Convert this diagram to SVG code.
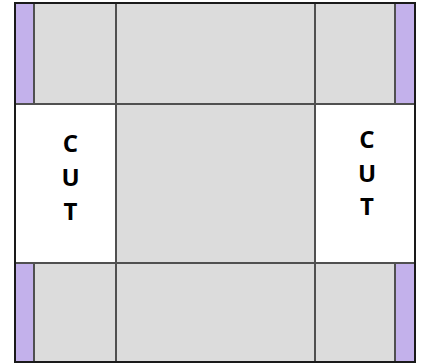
<svg xmlns="http://www.w3.org/2000/svg" width="424" height="364" viewBox="0 0 424 364">
<style>
.g{fill:#dcdcdc}
.p{fill:#c3b1eb}
.w{fill:#ffffff}
.ln{stroke:#505050;stroke-width:2;fill:none}
.t{font-family:"Open Sans","Liberation Sans",sans-serif;font-weight:bold;font-size:24px;fill:#000;text-anchor:middle}
</style>
<rect width="424" height="364" fill="#ffffff"/>
<g id="top-row">
<rect class="g" x="15" y="3" width="400" height="101"/>
<rect class="p" x="15" y="3" width="19" height="101"/>
<rect class="p" x="395" y="3" width="20" height="101"/>
</g>
<g id="middle-row">
<rect class="w" x="15" y="104" width="101" height="159"/>
<rect class="g" x="116" y="104" width="199" height="159"/>
<rect class="w" x="315" y="104" width="100" height="159"/>
</g>
<g id="bottom-row">
<rect class="g" x="15" y="263" width="400" height="99"/>
<rect class="p" x="15" y="263" width="19" height="99"/>
<rect class="p" x="395" y="263" width="20" height="99"/>
</g>
<g id="lines">
<line class="ln" x1="34" y1="3" x2="34" y2="104"/>
<line class="ln" x1="395" y1="3" x2="395" y2="104"/>
<line class="ln" x1="34" y1="263" x2="34" y2="362"/>
<line class="ln" x1="395" y1="263" x2="395" y2="362"/>
<line class="ln" x1="116" y1="3" x2="116" y2="362"/>
<line class="ln" x1="315" y1="3" x2="315" y2="362"/>
<line class="ln" x1="15" y1="104" x2="415" y2="104"/>
<line class="ln" x1="15" y1="263" x2="415" y2="263"/>
<rect x="15" y="3" width="400" height="359" fill="none" stroke="#1a1a1a" stroke-width="2"/>
</g>
<g id="cut-left">
<text class="t" x="70.5" y="152">C</text>
<text class="t" x="70.5" y="186">U</text>
<text class="t" x="70.5" y="220">T</text>
</g>
<g id="cut-right">
<text class="t" x="367" y="148">C</text>
<text class="t" x="367" y="182">U</text>
<text class="t" x="367" y="215">T</text>
</g>
</svg>
